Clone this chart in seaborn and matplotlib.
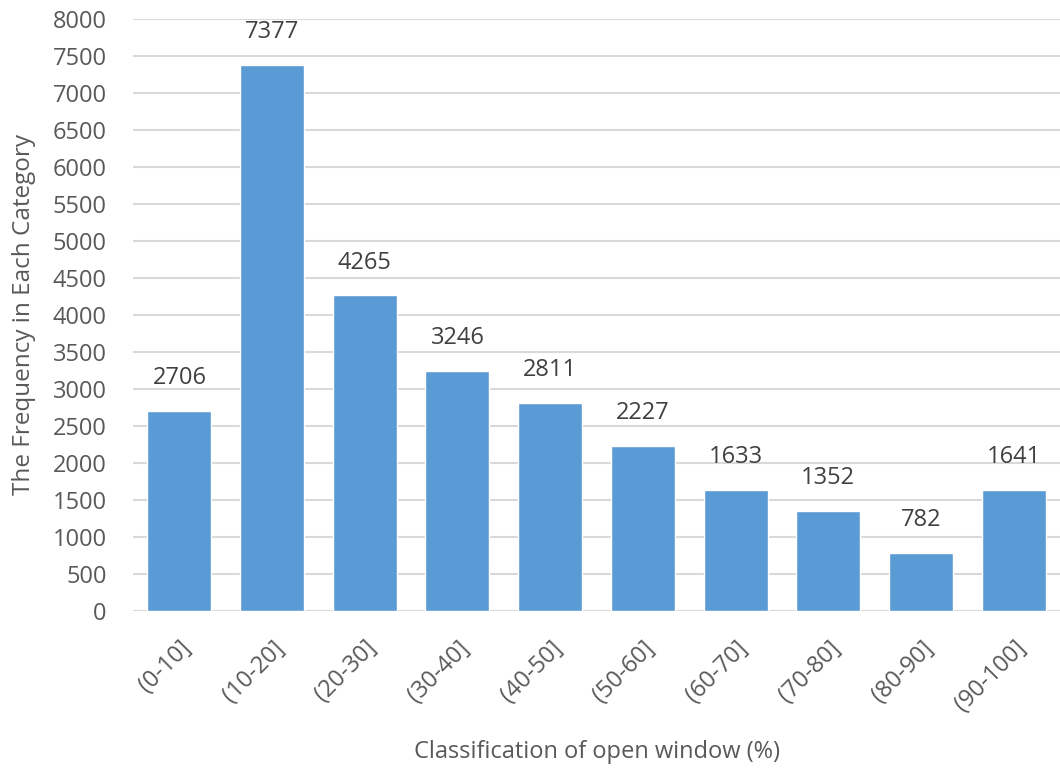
import matplotlib
matplotlib.use("Agg")
import matplotlib.pyplot as plt
import seaborn as sns
import pandas as pd

# data
categories = ["(0-10]", "(10-20]", "(20-30]", "(30-40]", "(40-50]",
              "(50-60]", "(60-70]", "(70-80]", "(80-90]", "(90-100]"]
frequency = [2706, 7377, 4265, 3246, 2811, 2227, 1633, 1352, 782, 1641]
y_ticks = list(range(0, 8001, 500))

df = pd.DataFrame({"category": categories, "frequency": frequency})

sns.set_theme(style="white")
plt.rcParams["font.family"] = ["Open Sans", "DejaVu Sans"]

fig = plt.figure(figsize=(10.6, 7.74), dpi=100)
ax = fig.add_axes([0.1255, 0.2106, 0.8745, 0.7649])

sns.barplot(data=df, x="category", y="frequency", color="#5B9BD5",
            saturation=1, width=0.69, ax=ax, zorder=3)

for i, v in enumerate(frequency):
    ax.annotate(str(v), (i, v), xytext=(0, 15), textcoords="offset points",
                ha="center", va="bottom", fontsize=17, color="#404040")

ax.set_ylim(0, 8000)
ax.set_yticks(y_ticks)
ax.yaxis.grid(True, color="#D9D9D9", linewidth=1.5, zorder=0)
ax.set_axisbelow(True)
sns.despine(ax=ax, left=True, bottom=True, top=True, right=True)
ax.tick_params(axis="both", length=0, labelsize=17, colors="#595959")
ax.tick_params(axis="y", pad=19)
ax.tick_params(axis="x", pad=18)
plt.setp(ax.get_xticklabels(), rotation=45, ha="right", rotation_mode="anchor")

ax.set_xlabel("Classification of open window (%)", fontsize=17, color="#595959")
ax.xaxis.set_label_coords(0.5, -0.218)
ax.set_ylabel("The Frequency in Each Category", fontsize=17.5, color="#595959")
ax.yaxis.set_label_coords(-0.1045, 0.5)

fig.savefig("out.png", dpi=100)
